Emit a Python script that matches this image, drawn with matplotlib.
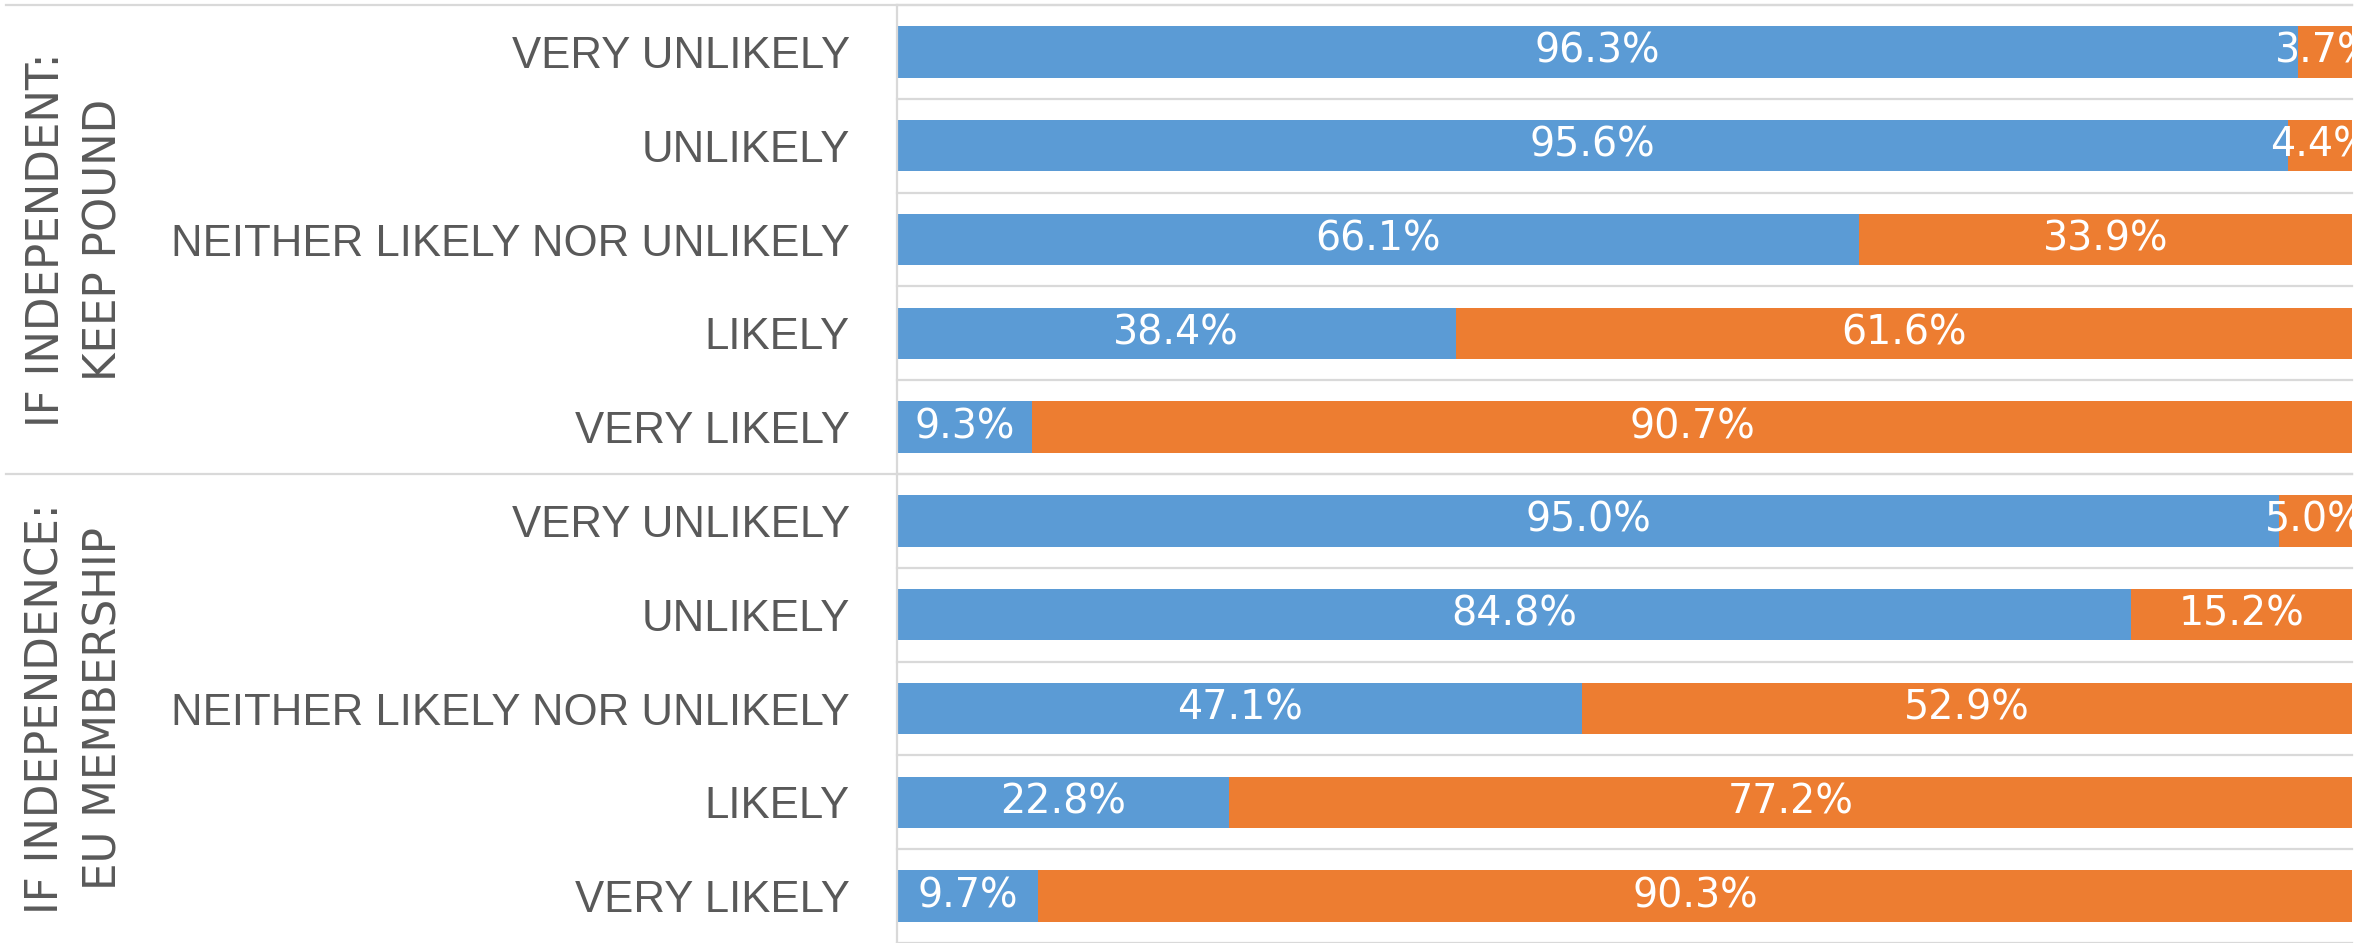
import matplotlib
matplotlib.use("Agg")
import matplotlib.pyplot as plt
import matplotlib.transforms as mtransforms
from matplotlib import font_manager

# data
groups = ["IF INDEPENDENT:\nKEEP POUND", "IF INDEPENDENCE:\nEU MEMBERSHIP"]
levels = ["VERY UNLIKELY", "UNLIKELY", "NEITHER LIKELY NOR UNLIKELY", "LIKELY", "VERY LIKELY"]
pound_blue = [96.3, 95.6, 66.1, 38.4, 9.3]
pound_orange = [3.7, 4.4, 33.9, 61.6, 90.7]
eu_blue = [95.0, 84.8, 47.1, 22.8, 9.7]
eu_orange = [5.0, 15.2, 52.9, 77.2, 90.3]

BLUE = "#5B9BD5"
ORANGE = "#ED7D31"
GRID = "#D9D9D9"
TEXT = "#595959"

names = {f.name for f in font_manager.fontManager.ttflist}
label_font = "Liberation Sans Narrow" if "Liberation Sans Narrow" in names else "Liberation Sans"

blue = pound_blue + eu_blue
orange = pound_orange + eu_orange
cats = levels + levels
ypos = list(range(len(cats)))

fig = plt.figure(figsize=(23.76, 9.43), dpi=100)
W, H = 2376, 943
ax = fig.add_axes([897 / W, 0, (2352 - 897) / W, (H - 5) / H])

ax.barh(ypos, blue, height=0.55, color=BLUE)
ax.barh(ypos, orange, left=blue, height=0.55, color=ORANGE)

# value labels, centred in each segment and clipped at the plot edge
for y, b, o in zip(ypos, blue, orange):
    ax.text(b / 2, y, f"{b:.1f}%", ha="center", va="center", color="white",
            fontsize=28.5, clip_on=True)
    ax.text(b + o / 2, y, f"{o:.1f}%", ha="center", va="center", color="white",
            fontsize=28.5, clip_on=True)

ax.set_xlim(0, 100)
ax.set_ylim(len(cats) - 0.5, -0.5)

# row separators
for k in range(len(cats) + 1):
    ax.plot([0, 100], [k - 0.5, k - 0.5], color=GRID, lw=1.6, zorder=0, clip_on=False)
# group separators across the label area
left_x = (6 - 897) / (2352 - 897) * 100
for k in [-0.5, 4.5]:
    ax.plot([left_x, 100], [k, k], color=GRID, lw=1.6, zorder=0, clip_on=False)

for s in ["top", "right", "bottom"]:
    ax.spines[s].set_visible(False)
ax.spines["left"].set_color(GRID)
ax.spines["left"].set_linewidth(1.6)
ax.set_xticks([])
ax.set_yticks(ypos)
ax.set_yticklabels(cats, fontsize=31.5, color=TEXT, family=label_font)
ax.tick_params(axis="y", length=0, pad=34)

trans = mtransforms.blended_transform_factory(fig.transFigure, ax.transData)
for g, label in enumerate(groups):
    ax.text(75 / W, 2 + 5 * g, label, transform=trans, rotation=90,
            ha="center", va="center", multialignment="center",
            fontsize=31.4, color=TEXT, linespacing=1.42)

fig.savefig("out.png", dpi=100)
